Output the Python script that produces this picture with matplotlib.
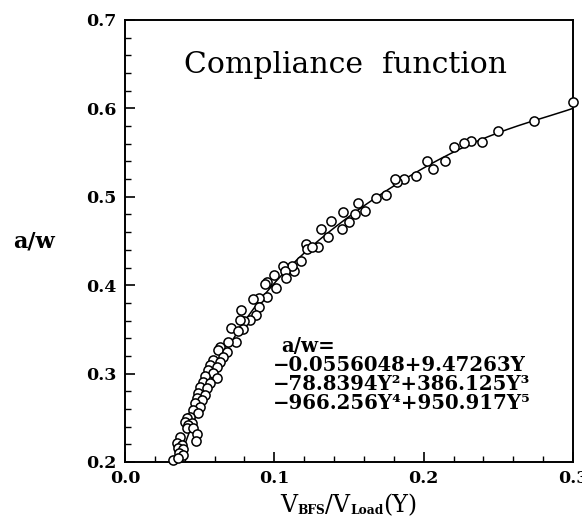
import numpy as np
import matplotlib
matplotlib.use("Agg")
import matplotlib.pyplot as plt
from matplotlib.ticker import MultipleLocator, FormatStrFormatter

# Measured data points: Y = V_BFS / V_Load, a/w
y_ratio = [0.300, 0.274, 0.250, 0.239, 0.232, 0.227, 0.220, 0.214, 0.206, 0.2025,
           0.195, 0.187, 0.182, 0.181, 0.175, 0.168, 0.161, 0.156, 0.154, 0.150,
           0.146, 0.145, 0.138, 0.131, 0.136, 0.129, 0.121, 0.122, 0.125, 0.118,
           0.113, 0.112, 0.106, 0.107, 0.108, 0.100, 0.095, 0.094, 0.101, 0.095,
           0.090, 0.086, 0.090, 0.078, 0.088, 0.084, 0.080, 0.077, 0.071, 0.079,
           0.076, 0.074, 0.069, 0.0636, 0.0625, 0.0681, 0.0658, 0.0591, 0.0636, 0.0569,
           0.0614, 0.0558, 0.0587, 0.0618, 0.0536, 0.0520, 0.0569, 0.0502, 0.0551, 0.0491,
           0.0536, 0.0480, 0.0513, 0.0469, 0.0502, 0.0457, 0.0491, 0.0435, 0.0413, 0.0402,
           0.0446, 0.0424, 0.0413, 0.0457, 0.0480, 0.0475, 0.0368, 0.0346, 0.0380, 0.0357,
           0.0390, 0.0364, 0.0390, 0.0324, 0.0357]
a_over_w = [0.607, 0.586, 0.574, 0.562, 0.563, 0.561, 0.556, 0.540, 0.532, 0.540,
            0.523, 0.520, 0.517, 0.520, 0.502, 0.499, 0.484, 0.493, 0.481, 0.471,
            0.483, 0.464, 0.473, 0.464, 0.455, 0.443, 0.447, 0.441, 0.443, 0.427,
            0.416, 0.422, 0.422, 0.416, 0.408, 0.412, 0.404, 0.401, 0.397, 0.387,
            0.386, 0.384, 0.375, 0.372, 0.366, 0.361, 0.359, 0.361, 0.352, 0.351,
            0.348, 0.336, 0.336, 0.330, 0.327, 0.325, 0.319, 0.315, 0.3135, 0.310,
            0.308, 0.304, 0.301, 0.295, 0.297, 0.291, 0.289, 0.2845, 0.2834, 0.2784,
            0.2758, 0.2721, 0.2701, 0.2664, 0.2626, 0.2588, 0.2551, 0.2513, 0.2494, 0.2456,
            0.2445, 0.2419, 0.2381, 0.2381, 0.2317, 0.2241, 0.2287, 0.2219, 0.2192, 0.2155,
            0.2143, 0.2098, 0.2079, 0.2023, 0.2042]

# Fitted polynomial coefficients (from the chart annotation), c0..c5
fit_coeffs = [-0.0556048, 9.47263, -78.8394, 386.125, -966.256, 950.917]
fit_range = [0.034, 0.300]

x_ticks = [0.0, 0.1, 0.2, 0.3]
y_ticks = [0.2, 0.3, 0.4, 0.5, 0.6, 0.7]

eq_lines = ["a/w=",
            "\u22120.0556048+9.47263Y",
            "\u221278.8394Y\u00b2+386.125Y\u00b3",
            "\u2212966.256Y\u2074+950.917Y\u2075"]

serif = "DejaVu Serif"
plt.rcParams['font.family'] = serif

W, H = 582, 522
fig = plt.figure(figsize=(W / 100, H / 100), dpi=100)
ax = fig.add_axes([125 / W, 60 / H, 448 / W, 442 / H])

yy = np.linspace(fit_range[0], fit_range[1], 300)
curve = np.polynomial.polynomial.polyval(yy, fit_coeffs)
ax.plot(yy, curve, color='black', lw=1.1, zorder=2)

ax.plot(y_ratio, a_over_w, linestyle='none', marker='o', markersize=6.6,
        markerfacecolor='white', markeredgecolor='black', markeredgewidth=1.1,
        zorder=3, clip_on=False)

ax.set_xlim(0.0, 0.3)
ax.set_ylim(0.2, 0.7)
ax.set_xticks(x_ticks)
ax.set_yticks(y_ticks)
ax.xaxis.set_major_formatter(FormatStrFormatter('%.1f'))
ax.yaxis.set_major_formatter(FormatStrFormatter('%.1f'))
ax.xaxis.set_minor_locator(MultipleLocator(0.02))
ax.yaxis.set_minor_locator(MultipleLocator(0.02))
ax.tick_params(which='both', direction='in', top=False, right=False)
ax.tick_params(which='major', length=7, width=1.2, labelsize=12.5, pad=6)
ax.tick_params(which='minor', length=4, width=1.0)
for lab in ax.get_xticklabels() + ax.get_yticklabels():
    lab.set_fontweight('bold')
for sp in ax.spines.values():
    sp.set_linewidth(1.4)

# Title inside the plot
fig.text(346 / W, 1 - 65 / H, "Compliance  function",
         ha='center', va='center', fontsize=21.5, family=serif)

# Equation block
eq_x = [281, 273, 273, 273]
eq_y = [346, 365, 384, 403]
for s, xp, yp in zip(eq_lines, eq_x, eq_y):
    fig.text(xp / W, 1 - yp / H, s, ha='left', va='center',
             fontsize=14.2, fontweight='bold', family=serif)

# y label
fig.text(33.5 / W, 1 - 242 / H, "a/w", ha='center', va='center',
         fontsize=16, fontweight='bold', family=serif)

# x label built from pieces: big V, small bold subscripts
fig.canvas.draw()
renderer = fig.canvas.get_renderer()
pieces = [("V", 17, 'normal', 0), ("BFS", 8.8, 'bold', -2),
          ("/V", 17, 'normal', 0), ("Load", 8.8, 'bold', -2),
          ("(Y)", 17, 'normal', 0)]
base_y = 512
widths = []
for s, fs, fw, dy in pieces:
    t = fig.text(0, 0, s, fontsize=fs, fontweight=fw, family=serif)
    bb = t.get_window_extent(renderer)
    widths.append(bb.width)
    t.remove()
total = sum(widths)
xcur = 349 - total / 2
for (s, fs, fw, dy), w in zip(pieces, widths):
    fig.text(xcur / W, 1 - (base_y - dy) / H, s, ha='left', va='baseline',
             fontsize=fs, fontweight=fw, family=serif)
    xcur += w

fig.savefig("out.png", dpi=100)
